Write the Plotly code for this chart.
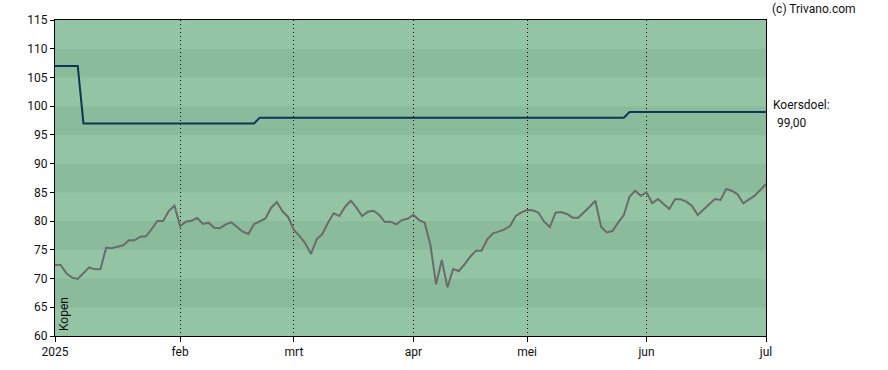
import pandas as pd
import numpy as np
import plotly.graph_objects as go

# Trading calendar (Euronext) Jan 2 – Jul 1 2025
holidays = ["2025-04-18", "2025-04-21", "2025-05-01"]
dates = [d for d in pd.bdate_range("2025-01-02", "2025-07-01") if d.strftime("%Y-%m-%d") not in holidays]

price = [72.35, 72.35, 70.9, 70.15, 69.92, 71.0, 71.95, 71.6, 71.66, 75.37,
         75.26, 75.55, 75.78, 76.65, 76.65, 77.28, 77.34, 78.62, 80.01, 80.01,
         81.75, 82.68, 79.14, 79.9, 80.07, 80.53, 79.49, 79.72, 78.85, 78.74,
         79.43, 79.78, 79.03, 78.16, 77.75, 79.49, 79.96, 80.47, 82.33, 83.32,
         81.7, 80.71, 78.45, 77.4, 76.13, 74.27, 76.82, 77.75, 79.72, 81.35,
         80.88, 82.5, 83.55, 82.33, 80.88, 81.64, 81.81, 81.06, 79.84, 79.9,
         79.43, 80.18, 80.41, 81.1, 80.18, 79.72, 75.84, 68.99, 73.22, 68.47,
         71.66, 71.31, 72.47, 73.8, 74.85, 74.85, 76.82, 77.87, 78.16, 78.57,
         79.14, 80.88, 81.52, 81.93, 81.87, 81.46, 79.9, 78.97, 81.46, 81.58,
         81.23, 80.59, 80.59, 81.46, 82.5, 83.55, 79.03, 78.04, 78.27, 79.72,
         81.06, 84.25, 85.29, 84.42, 85.0, 83.1, 83.84, 82.97, 82.1, 83.79,
         83.79, 83.38, 82.62, 81.06, 81.93, 82.8, 83.84, 83.67, 85.58, 85.29,
         84.66, 83.1, 83.84, 84.42, 85.41, 86.45]

# Koersdoel (price target) changes
target_change_dates = ["2025-01-02", "2025-01-09", "2025-02-21", "2025-05-28"]
target_change_values = [107, 97, 98, 99]

month_labels = ["2025", "feb", "mrt", "apr", "mei", "jun", "jul"]

idx = np.arange(len(dates))
s = pd.Series(np.nan, index=pd.DatetimeIndex(dates))
for d, v in zip(target_change_dates, target_change_values):
    s[pd.Timestamp(d)] = v
target = s.ffill().tolist()

# month tick positions: first trading day of each month
tickvals = []
seen = set()
for i, d in enumerate(dates):
    key = (d.year, d.month)
    if key not in seen:
        seen.add(key)
        tickvals.append(i)
tickvals[-1] = len(dates) - 1

fig = go.Figure()
fig.add_trace(go.Scatter(x=idx, y=price, mode="lines",
                         line=dict(color="#6B6B6B", width=2), hoverinfo="skip"))
fig.add_trace(go.Scatter(x=idx, y=target, mode="lines",
                         line=dict(color="#0D3657", width=2), hoverinfo="skip"))

shapes = []
for k, lo in enumerate(range(60, 115, 5)):
    shapes.append(dict(type="rect", xref="paper", yref="y", x0=0, x1=1, y0=lo, y1=lo + 5,
                       fillcolor="#93C4A3" if k % 2 == 0 else "#8ABB9A",
                       line=dict(width=0), layer="below"))

font = "Roboto, Arial, sans-serif"
fig.update_layout(
    width=888, height=370,
    margin=dict(l=55, r=122, t=20, b=34),
    paper_bgcolor="white", plot_bgcolor="#93C4A3",
    showlegend=False, shapes=shapes,
    font=dict(family=font, size=12, color="#111111"),
    xaxis=dict(range=[0, len(dates) - 1], tickvals=tickvals, ticktext=month_labels,
               showgrid=True, gridcolor="black", griddash="1px,3px", gridwidth=1,
               zeroline=False, showline=True, linecolor="black", linewidth=1, mirror=True,
               ticks="outside", ticklen=5, tickcolor="black", tickfont=dict(size=12),
               automargin=False),
    yaxis=dict(range=[60, 115], dtick=5, showgrid=False, zeroline=False,
               showline=True, linecolor="black", linewidth=1, mirror=True,
               ticks="outside", ticklen=4, tickcolor="black", tickfont=dict(size=12),
               automargin=False),
    annotations=[
        dict(text="(c) Trivano.com", xref="paper", yref="paper", x=1.0056, y=1.0,
             xanchor="left", yanchor="middle", yshift=11, showarrow=False, font=dict(size=12)),
        dict(text="Koersdoel:", xref="paper", yref="y", x=1.007, y=target[-1],
             xanchor="left", yanchor="bottom", yshift=-2, showarrow=False, font=dict(size=12)),
        dict(text="99,00", xref="paper", yref="y", x=1.0127, y=target[-1],
             xanchor="left", yanchor="top", yshift=-2, showarrow=False, font=dict(size=12)),
        dict(text="Kopen", xref="x", yref="y", x=0, y=60, textangle=-90,
             xanchor="left", yanchor="bottom", xshift=0, yshift=3, showarrow=False,
             font=dict(size=12)),
    ],
)

fig.write_html("out.html", config={"displayModeBar": False},
               post_script="document.body.style.margin='0';")
